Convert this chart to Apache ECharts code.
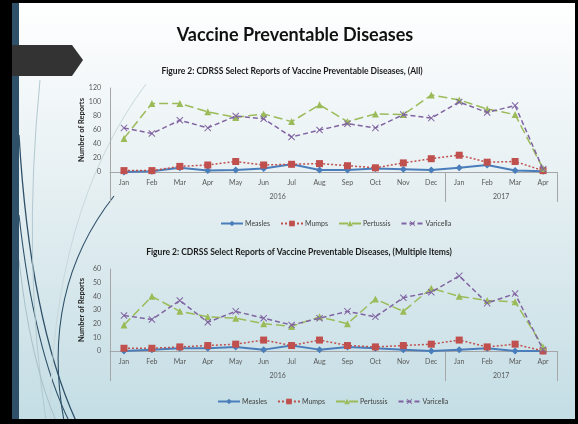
<!DOCTYPE html>
<html>
<head>
<meta charset="utf-8">
<script src="https://cdn.jsdelivr.net/npm/echarts@6/dist/echarts.min.js"></script>
<style>
  html, body { margin: 0; padding: 0; background: #000; }
  #main { width: 578px; height: 424px; }
</style>
</head>
<body>
<div id="main"></div>
<script>
// categories
var months = ['Jan', 'Feb', 'Mar', 'Apr', 'May', 'Jun', 'Jul', 'Aug', 'Sep', 'Oct', 'Nov', 'Dec', 'Jan', 'Feb', 'Mar', 'Apr'];
var years = ['2016', '2017'];
var diseases = ['Measles', 'Mumps', 'Pertussis', 'Varicella'];

// figure 2 (All)
var allMeasles   = [0, 1, 6, 2, 3, 5, 11, 3, 3, 5, 4, 3, 6, 10, 2, 1];
var allMumps     = [2, 2, 8, 10, 15, 10, 11, 12, 9, 6, 13, 19, 24, 14, 15, 2];
var allPertussis = [48, 98, 98, 86, 78, 83, 72, 96, 72, 83, 82, 110, 103, 90, 82, 5];
var allVaricella = [63, 55, 74, 63, 80, 76, 50, 60, 69, 63, 82, 77, 100, 85, 95, 4];

// figure 2 (Multiple Items)
var multiMeasles   = [0, 1, 2, 2, 3, 1, 4, 1, 3, 2, 1, 0, 1, 2, 0, 0];
var multiMumps     = [2, 2, 3, 4, 5, 8, 4, 8, 4, 3, 4, 5, 8, 3, 5, 0];
var multiPertussis = [19, 40, 29, 25, 24, 20, 18, 25, 20, 38, 29, 46, 40, 37, 36, 3];
var multiVaricella = [26, 23, 37, 21, 29, 24, 19, 24, 29, 25, 39, 43, 55, 35, 42, 1];

var colors = ['#4a7ebb', '#c0504d', '#9bbb59', '#8064a2'];
var xMark = 'path://M0,1L1,0L5,4L9,0L10,1L6,5L10,9L9,10L5,6L1,10L0,9L4,5Z';
var labelColor = '#595959';
var axisColor = '#a6a6a6';
var font = 'Lato';

var chartDom = document.getElementById('main');
var myChart = echarts.init(chartDom);

function makeSeries(grid, data) {
  var styles = [
    { symbol: 'diamond', size: 7, line: { width: 2, type: 'solid' } },
    { symbol: 'rect', size: 7, line: { width: 1.5, type: [2, 2] } },
    { symbol: 'triangle', size: 7, line: { width: 1.5, type: [9, 4] } },
    { symbol: xMark, size: 7, line: { width: 1.5, type: [5, 3] } }
  ];
  return data.map(function (d, i) {
    return {
      name: diseases[i],
      type: 'line',
      xAxisIndex: grid * 2,
      yAxisIndex: grid,
      data: d,
      symbol: styles[i].symbol,
      symbolSize: styles[i].size,
      showSymbol: true,
      itemStyle: { color: colors[i] },
      lineStyle: { color: colors[i], width: styles[i].line.width, type: styles[i].line.type },
      z: 2 + i
    };
  });
}

function monthAxis(grid) {
  return {
    type: 'category',
    gridIndex: grid,
    data: months,
    boundaryGap: true,
    axisLine: { show: true, lineStyle: { color: axisColor, width: 1 } },
    axisTick: { show: false },
    axisLabel: { color: labelColor, fontSize: 7, fontFamily: font, margin: 7, interval: 0 },
    splitLine: { show: false }
  };
}

function yearAxis(grid) {
  return {
    type: 'value',
    gridIndex: grid,
    min: 0,
    max: 16,
    position: 'bottom',
    axisLine: { show: false },
    axisTick: { show: true, customValues: [0, 12, 16], length: 30, lineStyle: { color: axisColor, width: 1 } },
    axisLabel: {
      show: true, customValues: [6, 14], color: labelColor, fontSize: 7, fontFamily: font, margin: 21,
      formatter: function (v) { return v === 6 ? years[0] : years[1]; }
    },
    splitLine: { show: false }
  };
}

function valueAxis(grid, max, step) {
  return {
    type: 'value',
    gridIndex: grid,
    min: 0,
    max: max,
    interval: step,
    name: 'Number of Reports',
    nameLocation: 'middle',
    nameGap: 24,
    nameMoveOverlap: false,
    nameTextStyle: { color: '#262626', fontSize: 7.5, fontWeight: 'bold', fontFamily: font },
    axisLine: { show: true, lineStyle: { color: axisColor, width: 1 } },
    axisTick: { show: false },
    axisLabel: { color: labelColor, fontSize: 7, fontFamily: font, margin: 9 },
    splitLine: { show: false }
  };
}

function legendFor(left, top) {
  return {
    data: diseases,
    top: top,
    left: left,
    itemWidth: 22,
    itemHeight: 7,
    itemGap: 10,
    selectedMode: false,
    textStyle: { color: '#404040', fontSize: 7, fontFamily: font, padding: [0, 0, 0, -3] }
  };
}

var option = {
  backgroundColor: {
    type: 'linear', x: 0, y: 0, x2: 0, y2: 1,
    colorStops: [
      { offset: 0, color: '#ffffff' },
      { offset: 0.45, color: '#e5eff2' },
      { offset: 1, color: '#c3dde4' }
    ]
  },
  animation: false,
  grid: [
    { left: 110, right: 21, top: 88, bottom: 252 },
    { left: 110, right: 21, top: 269, bottom: 73 }
  ],
  xAxis: [monthAxis(0), yearAxis(0), monthAxis(1), yearAxis(1)],
  yAxis: [valueAxis(0, 120, 20), valueAxis(1, 60, 10)],
  legend: [legendFor(215, 215), legendFor(212, 393)],
  series: makeSeries(0, [allMeasles, allMumps, allPertussis, allVaricella])
    .concat(makeSeries(1, [multiMeasles, multiMumps, multiPertussis, multiVaricella])),
  graphic: [
    // decorative curves on the left
    { type: 'bezierCurve', silent: true, z: -1, shape: { x1: 19, y1: 135, cpx1: 30, cpy1: 320, x2: 76, y2: 421 }, style: { stroke: '#2e5068', lineWidth: 1.3, fill: null } },
    { type: 'bezierCurve', silent: true, z: -1, shape: { x1: 19, y1: 215, cpx1: 34, cpy1: 350, x2: 69, y2: 421 }, style: { stroke: '#2e5068', lineWidth: 1.1, fill: null } },
    { type: 'bezierCurve', silent: true, z: -1, shape: { x1: 114, y1: 196, cpx1: 40, cpy1: 290, x2: 64, y2: 421 }, style: { stroke: '#2e5068', lineWidth: 1.1, fill: null } },
    { type: 'bezierCurve', silent: true, z: -1, shape: { x1: 40, y1: 80, cpx1: 22, cpy1: 260, x2: 46, y2: 421 }, style: { stroke: '#b3c9d0', lineWidth: 1, fill: null } },
    { type: 'bezierCurve', silent: true, z: -1, shape: { x1: 146, y1: 84, cpx1: 52, cpy1: 210, x2: 50, y2: 421 }, style: { stroke: '#c8d8dd', lineWidth: 1, fill: null } },
    { type: 'bezierCurve', silent: true, z: -1, shape: { x1: 19, y1: 260, cpx1: 30, cpy1: 360, x2: 56, y2: 421 }, style: { stroke: '#a9c0c8', lineWidth: 1, fill: null } },
    // slide frame
    { type: 'rect', silent: true, shape: { x: 0, y: 0, width: 578, height: 3 }, style: { fill: '#000' } },
    { type: 'rect', silent: true, shape: { x: 0, y: 419, width: 578, height: 5 }, style: { fill: '#000' } },
    { type: 'rect', silent: true, shape: { x: 575, y: 0, width: 3, height: 424 }, style: { fill: '#000' } },
    { type: 'rect', silent: true, shape: { x: 0, y: 0, width: 12, height: 424 }, style: { fill: '#000' } },
    { type: 'rect', silent: true, shape: { x: 12, y: 3, width: 7, height: 416 }, style: { fill: '#2e5068' } },
    { type: 'polygon', silent: true, shape: { points: [[12, 45], [72, 45], [83, 60], [72, 76], [12, 76]] }, style: { fill: '#333333' } },
    // titles
    { type: 'text', silent: true, x: 295, y: 35, style: { text: 'Vaccine Preventable Diseases', fill: '#111', font: 'bold 18px Lato', textAlign: 'center', textVerticalAlign: 'middle' } },
    { type: 'text', silent: true, x: 292, y: 71, style: { text: 'Figure 2: CDRSS Select Reports of Vaccine Preventable Diseases, (All)', fill: '#1a1a1a', font: 'bold 8.5px Lato', textAlign: 'center', textVerticalAlign: 'middle' } },
    { type: 'text', silent: true, x: 299, y: 252, style: { text: 'Figure 2: CDRSS Select Reports of Vaccine Preventable Diseases, (Multiple Items)', fill: '#1a1a1a', font: 'bold 8.5px Lato', textAlign: 'center', textVerticalAlign: 'middle' } }
  ]
};

myChart.setOption(option);
window.addEventListener('resize', function () {
  myChart.resize();
});
</script>
</body>
</html>
